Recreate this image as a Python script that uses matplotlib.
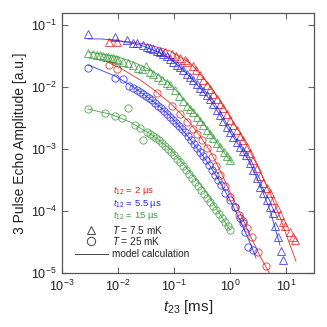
import matplotlib
matplotlib.use("Agg")
import matplotlib.pyplot as plt
from matplotlib.ticker import LogLocator, NullLocator

plt.rcParams['font.family'] = ['Liberation Sans', 'DejaVu Sans']
plt.rcParams['mathtext.fontset'] = 'custom'
plt.rcParams['mathtext.rm'] = 'Liberation Sans'
plt.rcParams['mathtext.it'] = 'Liberation Sans:italic'
plt.rcParams['mathtext.default'] = 'regular'

# t12 = 2 us, T = 7.5 mK (red triangles)
rt_t = [0.0069, 0.0096, 0.056, 0.069, 0.092, 0.109, 0.128, 0.157, 0.171, 0.218, 0.247,
        0.291, 0.33, 0.388, 0.44, 0.497, 0.586, 0.66, 0.75, 0.883, 1.0, 1.13, 1.33, 1.51,
        1.71, 2.01, 2.28, 2.58, 3.03, 3.43, 3.88, 4.58, 5.18, 5.86, 6.9, 7.81, 8.83, 9.6,
        11.8, 13.3, 14.5]
rt_a = [0.0532, 0.0532, 0.0381, 0.0367, 0.0341, 0.0316, 0.0294, 0.0272, 0.0253, 0.0218,
        0.0188, 0.0156, 0.0130, 0.01076, 0.00929, 0.00771, 0.0064, 0.00532, 0.00458,
        0.00367, 0.00294, 0.00244, 0.00202, 0.00162, 0.0014, 0.00108, 0.000862, 0.000665,
        0.000494, 0.000367, 0.000283, 0.000235, 0.000195, 0.00015, 0.000112, 8.62e-5,
        6.65e-5, 5.73e-5, 4.58e-5, 3.81e-5, 3.41e-5]
rt_fit_t = [0.0069, 0.0164, 0.0373, 0.085, 0.193, 0.291, 0.44, 0.66, 1.0, 1.51, 2.28,
            3.43, 5.18, 7.81, 11.8, 15.1]
rt_fit_a = [0.057, 0.0532, 0.0476, 0.0381, 0.0244, 0.0162, 0.01037, 0.0062, 0.00328,
            0.00181, 0.000929, 0.000442, 0.000195, 8.0e-5, 2.83e-5, 1.56e-5]

# t12 = 5.5 us, T = 7.5 mK (blue triangles)
bt_t = [0.0029, 0.00883, 0.0145, 0.0185, 0.0218, 0.0279, 0.033, 0.0373, 0.0422, 0.0497,
        0.0562, 0.0637, 0.075, 0.085, 0.096, 0.113, 0.128, 0.145, 0.171, 0.193, 0.218,
        0.258, 0.291, 0.33, 0.388, 0.44, 0.497, 0.586, 0.66, 0.75, 0.883, 1.0, 1.13, 1.33,
        1.51, 1.71, 1.93, 2.28, 2.58, 3.03, 3.43, 3.88, 4.58, 5.18, 5.86, 6.37, 7.2, 8.15,
        8.83]
bt_a = [0.0716, 0.064, 0.057, 0.0513, 0.0513, 0.0476, 0.0442, 0.0426, 0.041, 0.0381,
        0.0367, 0.0341, 0.0316, 0.0283, 0.0253, 0.0226, 0.021, 0.0188, 0.0162, 0.0145,
        0.013, 0.01117, 0.00964, 0.00861, 0.00743, 0.0064, 0.00532, 0.00426, 0.00354,
        0.00283, 0.00226, 0.00188, 0.00156, 0.0013, 0.00108, 0.000929, 0.0008, 0.000594,
        0.000458, 0.00034, 0.000244, 0.000195, 0.00015, 0.000116, 9.29e-5, 5.73e-5,
        3.81e-5, 2.26e-5, 1.62e-5]
bt_fit_t = [0.0029, 0.0048, 0.00883, 0.0164, 0.0247, 0.0373, 0.0562, 0.085, 0.128, 0.193,
            0.291, 0.44, 0.66, 1.0, 1.51, 2.28, 3.43, 5.18, 7.81]
bt_fit_a = [0.0594, 0.0594, 0.057, 0.0513, 0.0476, 0.041, 0.0354, 0.0283, 0.021, 0.0145,
            0.00964, 0.0062, 0.00354, 0.00188, 0.00108, 0.000594, 0.000262, 0.000104, 2.83e-5]

# t12 = 15 us, T = 7.5 mK (green triangles)
gt_t = [0.0029, 0.00358, 0.00422, 0.0048, 0.0054, 0.00611, 0.00663, 0.0075, 0.00815,
        0.0092, 0.01, 0.0123, 0.0151, 0.0185, 0.0228, 0.0268, 0.0316, 0.0373, 0.0422,
        0.0518, 0.0611, 0.075, 0.085, 0.104, 0.123, 0.145, 0.171, 0.193, 0.218, 0.258,
        0.291, 0.33, 0.388, 0.44, 0.497, 0.586, 0.66, 0.781, 0.883, 1.0]
gt_a = [0.0354, 0.0341, 0.0328, 0.0328, 0.0316, 0.0305, 0.0305, 0.0294, 0.0294, 0.0283,
        0.0272, 0.0253, 0.0244, 0.0226, 0.0202, 0.0195, 0.0218, 0.0175, 0.0162, 0.0145,
        0.013, 0.0116, 0.01076, 0.00895, 0.00716, 0.00594, 0.00494, 0.00442, 0.00395,
        0.00328, 0.00283, 0.00244, 0.00202, 0.00175, 0.0015, 0.00125, 0.00108, 0.000895,
        0.00077, 0.000665]
gt_fit_t = [0.0029, 0.0048, 0.01, 0.0164, 0.0247, 0.0373, 0.0562, 0.085, 0.128, 0.193,
            0.291, 0.44, 0.66, 1.086]
gt_fit_a = [0.0367, 0.0341, 0.0305, 0.0262, 0.0226, 0.0188, 0.015, 0.01117, 0.00743,
            0.00476, 0.00305, 0.00181, 0.00108, 0.000594]

# t12 = 2 us, T = 25 mK (red circles)
rc_t = [0.0069, 0.0096, 0.0497, 0.092, 0.128, 0.171, 0.218, 0.258, 0.316, 0.388, 0.477,
        0.562, 0.66, 0.815, 1.0, 1.23, 1.45, 1.71, 2.01, 2.47, 3.16, 4.4]
rc_a = [0.0226, 0.0195, 0.008, 0.00494, 0.00367, 0.00272, 0.0021, 0.00175, 0.0014,
        0.00104, 0.000743, 0.000532, 0.000381, 0.000253, 0.000168, 0.000116, 8.62e-5,
        6.9e-5, 5.32e-5, 3.81e-5, 2.18e-5, 1.3e-5]
rc_fit_t = [0.0069, 0.0109, 0.0164, 0.0247, 0.0373, 0.0562, 0.085, 0.128, 0.193, 0.291,
            0.44, 0.66, 1.0, 1.51, 2.28, 3.43, 5.18]
rc_fit_a = [0.0244, 0.0202, 0.0162, 0.013, 0.01, 0.00743, 0.00552, 0.00381, 0.00262,
            0.00162, 0.000929, 0.000458, 0.000202, 9.29e-5, 4.1e-5, 1.88e-5, 9.6e-6]

# t12 = 5.5 us, T = 25 mK (blue circles)
bc_t = [0.0029, 0.00883, 0.0123, 0.0157, 0.0185, 0.0218, 0.0247, 0.0279, 0.0316, 0.0358,
        0.0405, 0.0458, 0.0518, 0.0586, 0.0663, 0.075, 0.085, 0.096, 0.109, 0.123, 0.139,
        0.157, 0.178, 0.201, 0.228, 0.258, 0.291, 0.33, 0.373, 0.422, 0.477, 0.54, 0.611,
        0.69, 0.815, 1.0, 1.23, 1.51, 1.71, 1.85, 2.10, 2.58]
bc_a = [0.0202, 0.01396, 0.01346, 0.01037, 0.00964, 0.00895, 0.0083, 0.00771, 0.00716,
        0.00665, 0.0062, 0.00552, 0.00494, 0.00458, 0.0041, 0.00367, 0.00328, 0.00294,
        0.00262, 0.00235, 0.0021, 0.00188, 0.00162, 0.0014, 0.0012, 0.00104, 0.000895,
        0.00077, 0.000665, 0.000552, 0.000458, 0.000381, 0.000316, 0.000262, 0.000195,
        0.00015, 0.000116, 7.71e-5, 6.4e-5, 4.58e-5, 2.62e-5, 2.35e-5]
bc_fit_t = [0.0029, 0.0048, 0.00883, 0.0164, 0.0247, 0.0373, 0.0562, 0.085, 0.128, 0.193,
            0.291, 0.44, 0.66, 1.0, 1.51, 2.28, 2.91]
bc_fit_a = [0.0226, 0.0188, 0.015, 0.01076, 0.0083, 0.0064, 0.00476, 0.0034, 0.00226,
            0.00145, 0.000895, 0.000532, 0.000294, 0.00015, 7.16e-5, 3.05e-5, 1.75e-5]

# t12 = 15 us, T = 25 mK (green circles)
gc_t = [0.0029, 0.00586, 0.00883, 0.0118, 0.0151, 0.0201, 0.0247, 0.0279, 0.033, 0.0373,
        0.0422, 0.0477, 0.054, 0.0611, 0.069, 0.078, 0.0884, 0.1, 0.113, 0.128, 0.145,
        0.164, 0.185, 0.21, 0.237, 0.268, 0.303, 0.343, 0.388, 0.44, 0.497, 0.562, 0.636,
        0.72, 0.815, 0.92, 1.0]
gc_a = [0.00442, 0.00381, 0.0034, 0.00316, 0.00458, 0.00244, 0.00218, 0.0014, 0.00188,
        0.00175, 0.00162, 0.0015, 0.0014, 0.00125, 0.00112, 0.001, 0.000895, 0.0008,
        0.00069, 0.000617, 0.000532, 0.000458, 0.000395, 0.00034, 0.000294, 0.000253,
        0.000218, 0.000188, 0.000162, 0.00014, 0.00012, 0.000104, 8.95e-5, 7.71e-5,
        6.65e-5, 5.73e-5, 4.94e-5]
gc_fit_t = [0.0029, 0.0048, 0.0072, 0.0109, 0.0164, 0.0247, 0.0373, 0.0562, 0.085, 0.128,
            0.193, 0.291, 0.44, 0.66, 1.0]
gc_fit_a = [0.00442, 0.00395, 0.00367, 0.00316, 0.00272, 0.00218, 0.00175, 0.00135, 0.001,
            0.000665, 0.000425, 0.000272, 0.000162, 8.95e-5, 4.94e-5]

RED = '#e0201c'
BLUE = '#2626e6'
GREEN = '#3a9a3a'

fig = plt.figure(figsize=(3.27, 3.27), dpi=100)
ax = fig.add_axes([0.19, 0.165, 0.77, 0.795])

series = [
    (rt_t, rt_a, rt_fit_t, rt_fit_a, RED, '^'),
    (bt_t, bt_a, bt_fit_t, bt_fit_a, BLUE, '^'),
    (gt_t, gt_a, gt_fit_t, gt_fit_a, GREEN, '^'),
    (rc_t, rc_a, rc_fit_t, rc_fit_a, RED, 'o'),
    (bc_t, bc_a, bc_fit_t, bc_fit_a, BLUE, 'o'),
    (gc_t, gc_a, gc_fit_t, gc_fit_a, GREEN, 'o'),
]
for t, a, ft, fa, c, m in series:
    ax.plot(ft, fa, '-', color=c, lw=0.7, alpha=0.8)
    ax.plot(t, a, m, mfc='none', mec=c, mew=0.7, ms=5.2, alpha=0.75, ls='none')

ax.set_xscale('log')
ax.set_yscale('log')
ax.set_xlim(1e-3, 31.6)
ax.set_ylim(1e-5, 0.155)
ax.xaxis.set_major_locator(LogLocator(base=10, numticks=10))
ax.yaxis.set_major_locator(LogLocator(base=10, numticks=10))
ax.xaxis.set_minor_locator(NullLocator())
ax.yaxis.set_minor_locator(NullLocator())
ax.tick_params(which='major', direction='in', length=4, width=0.8, color='#666666',
               top=True, right=True, labelsize=9, labelcolor='#222222', pad=4)
for s in ax.spines.values():
    s.set_color('#555555')
    s.set_linewidth(0.9)

ax.set_ylabel('3 Pulse Echo Amplitude [a.u.]', fontsize=10, color='#222222', labelpad=3)
ax.set_xlabel(r'$\mathit{t}_{23}$ [ms]', fontsize=11, color='#222222', labelpad=3)

# legend drawn by hand
ax.text(0.202, 0.318, r'$\mathit{t}_{12}$ = 2 µs', color=RED, fontsize=6.8,
        transform=ax.transAxes, va='center')
ax.text(0.202, 0.269, r'$\mathit{t}_{12}$ = 5.5 µs', color=BLUE, fontsize=6.8,
        transform=ax.transAxes, va='center')
ax.text(0.202, 0.220, r'$\mathit{t}_{12}$ = 15 µs', color=GREEN, fontsize=6.8,
        transform=ax.transAxes, va='center')
ax.plot([0.115], [0.166], '^', mfc='none', mec='#444444', mew=0.7, ms=6,
        transform=ax.transAxes)
ax.plot([0.115], [0.122], 'o', mfc='none', mec='#444444', mew=0.7, ms=6,
        transform=ax.transAxes)
ax.plot([0.052, 0.183], [0.073, 0.073], '-', color='#444444', lw=0.7,
        transform=ax.transAxes)
ax.text(0.2, 0.166, r'$\mathit{T}$ = 7.5 mK', color='#222222', fontsize=7.2,
        transform=ax.transAxes, va='center')
ax.text(0.2, 0.122, r'$\mathit{T}$ = 25 mK', color='#222222', fontsize=7.2,
        transform=ax.transAxes, va='center')
ax.text(0.2, 0.073, 'model calculation', color='#222222', fontsize=7.2,
        transform=ax.transAxes, va='center')

fig.savefig('out.png', dpi=100)
